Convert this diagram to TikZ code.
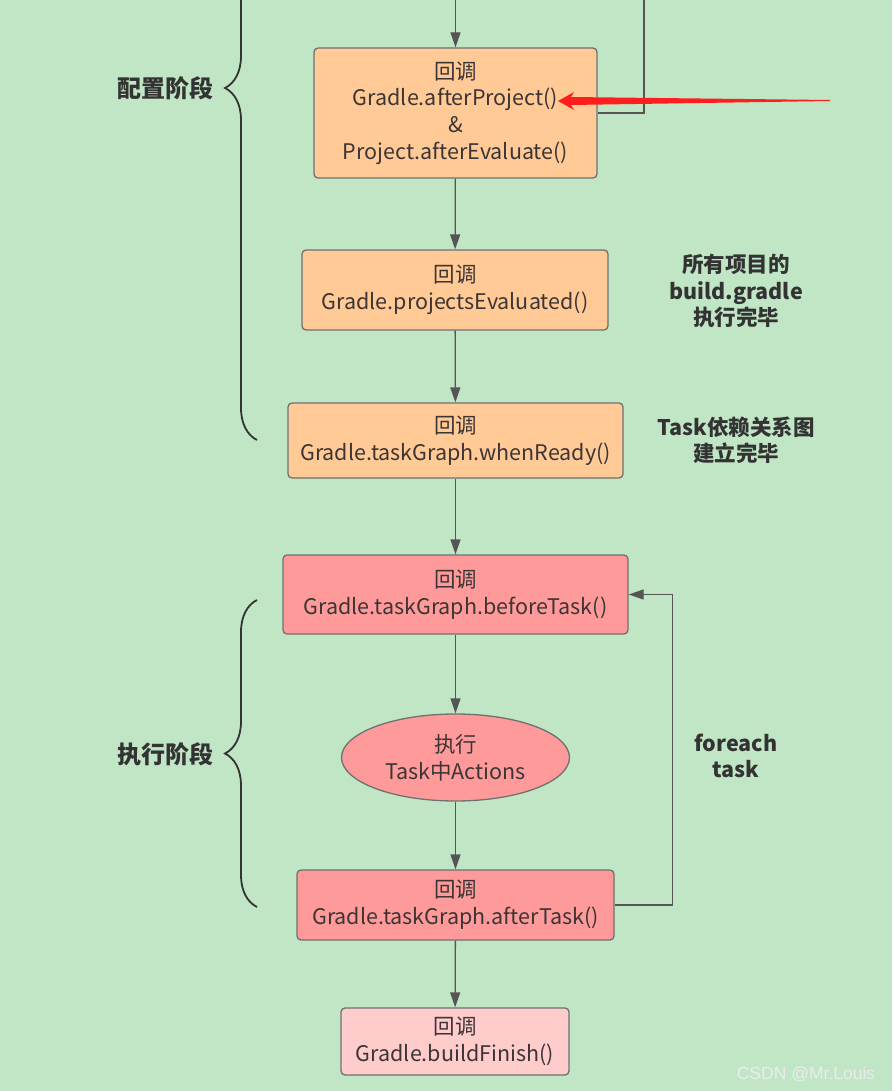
\documentclass[tikz,border=0pt]{standalone}
\usepackage{fontspec}
\setmainfont{Noto Sans CJK SC}
\newfontfamily\markfont{Liberation Sans}
\usetikzlibrary{arrows.meta,shapes.geometric,decorations.pathreplacing}
\definecolor{bggreen}{HTML}{C1E6C6}
\definecolor{cbfill}{HTML}{FFCA96}
\definecolor{taskfill}{HTML}{FF9A9A}
\definecolor{endfill}{HTML}{FFCCCC}
\definecolor{boxline}{HTML}{707070}
\definecolor{linegray}{HTML}{555555}
\definecolor{textdark}{HTML}{3D3535}
\definecolor{notedark}{HTML}{333333}
\definecolor{annored}{HTML}{FF1E1E}
\tikzset{
  box/.style={draw=boxline,line width=1.3pt,rounded corners=4pt,align=center,
    inner sep=0pt,text=textdark,font=\fontsize{21.5}{26.7}\selectfont},
  flow/.style={draw=linegray,line width=1.3pt,-{Triangle[length=15pt,width=10pt]}},
  note/.style={align=center,text=notedark,font=\fontsize{21.5}{26.5}\selectfont\bfseries},
  phase/.style={anchor=east,text=notedark,font=\fontsize{24}{28}\selectfont\bfseries},
  phasebrace/.style={draw=notedark,line width=1.8pt,decorate,decoration={brace,amplitude=32pt}}
}
\begin{document}
\begin{tikzpicture}[x=1pt,y=-1pt]

\useasboundingbox (0,0) rectangle (892,1091);
\clip (0,0) rectangle (892,1091);
\fill[bggreen] (0,0) rectangle (892,1091);

\coordinate (entry)	at (455.5,0);
\coordinate (backin)	at (644,0);
\node (afterproject)	at (455.5,113)	[box,fill=cbfill,minimum width=283,minimum height=130] {回调\\Gradle.afterProject()\\\&\\Project.afterEvaluate()};
\node (evaluated)	at (455,290)	[box,fill=cbfill,minimum width=306,minimum height=80] {回调\\Gradle.projectsEvaluated()};
\node (whenready)	at (455.5,440.5)	[box,fill=cbfill,minimum width=335,minimum height=75] {回调\\Gradle.taskGraph.whenReady()};
\node (beforetask)	at (455.5,594.5)	[box,fill=taskfill,minimum width=345,minimum height=79] {回调\\Gradle.taskGraph.beforeTask()};
\node (actions)	at (455.5,757.5)	[box,ellipse,fill=taskfill,minimum width=228,minimum height=87] {执行\\Task中Actions};
\node (aftertask)	at (455.5,905)	[box,fill=taskfill,minimum width=317,minimum height=70] {回调\\Gradle.taskGraph.afterTask()};
\node (buildfinish)	at (455,1041.5)	[box,fill=endfill,minimum width=228,minimum height=67] {回调\\Gradle.buildFinish()};

\node (allbuilt)	at (736,291)	[note] {所有项目的\\build.gradle\\执行完毕};
\node (graphbuilt)	at (736,440)	[note] {Task依赖关系图\\建立完毕};
\node (foreach)	at (736,756)	[note] {foreach\\task};

\node (configphase)	at (217,88)	[phase] {配置阶段};
\node (execphase)	at (217,754)	[phase] {执行阶段};
\draw [phasebrace] (257,440) -- (257,-264);
\draw [phasebrace] (257,907) -- (257,600);

\draw [flow] (entry) -- (afterproject.north);
\draw [draw=linegray,line width=1.3pt] (backin) |- (afterproject.east);
\draw [flow] (afterproject) -- (evaluated);
\draw [flow] (evaluated) -- (whenready);
\draw [flow] (whenready) -- (beforetask);
\draw [flow] (beforetask) -- (actions);
\draw [flow] (actions) -- (aftertask);
\draw [flow] (aftertask) -- (buildfinish);
\draw [flow] (aftertask.east) -- ++(58,0) |- (beforetask.east);

% hand-drawn pointer
\coordinate (redtip)	at (558,101);
\fill [annored] (redtip) -- (574,92) -- (571,97) -- (830,100) -- (830,101) -- (571,105) -- (574,110) -- cycle;

\node (mark)	at (806,1074)	[text=white!92!black,font=\markfont\fontsize{17.5}{20}\selectfont] {CSDN @Mr.Louis};

\end{tikzpicture}
\end{document}
